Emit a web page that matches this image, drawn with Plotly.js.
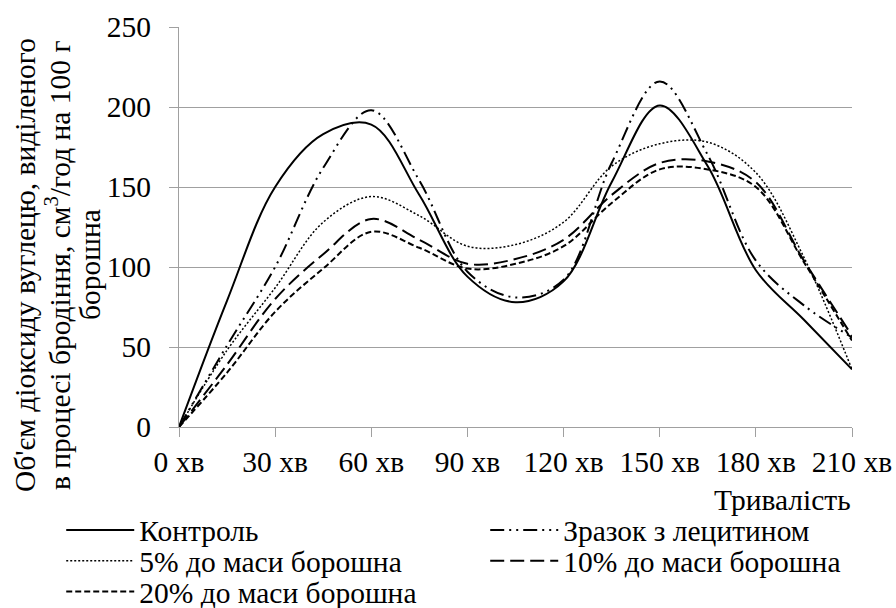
<!DOCTYPE html>
<html>
<head>
<meta charset="utf-8">
<script src="https://cdn.plot.ly/plotly-3.0.1.min.js"></script>
<style>html,body{margin:0;padding:0;background:#fff;}#chart{width:896px;height:608px;}</style>
</head>
<body>
<div id="chart"></div>
<script>
const minutes = [0, 15, 30, 45, 60, 75, 90, 105, 120, 135, 150, 165, 180, 195, 210];
const tickValues = [0, 30, 60, 90, 120, 150, 180, 210];
const tickLabels = ["0 хв", "30 хв", "60 хв", "90 хв", "120 хв", "150 хв", "180 хв", "210 хв"];
const seriesNames = ["Контроль", "Зразок з лецитином", "5% до маси борошна", "10% до маси борошна", "20% до маси борошна"];
const kontrol  = [0, 79, 150, 183, 189, 145, 94, 78, 91, 153, 201, 163, 98, 67, 36];
const lecithin = [0, 51, 100, 162, 198, 154, 97, 81, 92, 165, 216, 170, 104, 76, 56];
const pct5     = [0, 48, 87, 128, 144, 132, 113, 114, 128, 163, 177, 178, 159, 106, 36];
const pct10    = [0, 39, 80, 108, 130, 117, 102, 105, 117, 145, 165, 166, 153, 104, 57];
const pct20    = [0, 34, 72, 99, 122, 112, 99, 102, 113, 140, 161, 161, 150, 103, 54];
const yTitleLines = ["Об'єм діоксиду вуглецю, виділеного", "в процесі бродіння, см<sup>3</sup>/год на 100 г", "борошна"];

const FONT = "Liberation Serif";
const FS = 29.5;
const styles = [
  {dash: "solid", width: 2},
  {dash: "14px,5px,2px,5px,2px,5px", width: 2},
  {dash: "2px,2px", width: 1.5},
  {dash: "14px,6px", width: 2},
  {dash: "6px,3px", width: 2}
];
const legendIds = ["legend", "legend2", "legend3", "legend4", "legend5"];
const legendPos = [[-0.175, -0.258], [0.455, -0.258], [-0.175, -0.335], [0.455, -0.335], [-0.175, -0.412]];
const values = [kontrol, lecithin, pct5, pct10, pct20];
const traces = values.map((v, i) => ({
  x: minutes, y: v, name: seriesNames[i], type: "scatter", mode: "lines",
  legend: legendIds[i],
  line: {color: "#000", width: styles[i].width, dash: styles[i].dash, shape: "spline", smoothing: 1}
}));

const layout = {
  width: 896, height: 608,
  margin: {l: 179, r: 44, t: 27, b: 181, autoexpand: false},
  paper_bgcolor: "#fff", plot_bgcolor: "#fff",
  font: {family: FONT, size: FS, color: "#000"},
  showlegend: true,
  xaxis: {
    range: [0, 210], tickvals: tickValues, ticktext: tickLabels,
    showgrid: false, zeroline: false, showline: true, linecolor: "#a0a0a0", linewidth: 1,
    ticks: "outside", ticklen: 9, tickcolor: "#a0a0a0", ticklabelstandoff: 0,
    tickfont: {family: FONT, size: FS, color: "#000"}, fixedrange: true
  },
  yaxis: {
    range: [0, 250], dtick: 50, showgrid: true, gridcolor: "#a0a0a0", gridwidth: 1,
    zeroline: false, showline: true, linecolor: "#a0a0a0", linewidth: 1,
    ticks: "outside", ticklen: 9, tickcolor: "#a0a0a0", ticklabelstandoff: 12,
    tickfont: {family: FONT, size: FS, color: "#000"}, fixedrange: true
  },
  annotations: [
    {
      text: "Тривалість", xref: "paper", yref: "paper", x: 1.002, y: -0.182,
      xanchor: "right", yanchor: "middle", showarrow: false,
      font: {family: FONT, size: FS, color: "#000"}
    }
  ]
};
legendIds.forEach((id, i) => {
  layout[id] = {
    orientation: "v", x: legendPos[i][0], y: legendPos[i][1], xanchor: "left", yanchor: "middle",
    font: {family: FONT, size: FS, color: "#000"},
    itemwidth: 68, bgcolor: "rgba(0,0,0,0)", borderwidth: 0
  };
});
const titleX = [-0.2288, -0.1798, -0.1322];
yTitleLines.forEach((txt, i) => {
  layout.annotations.push({
    text: txt, xref: "paper", yref: "paper", x: titleX[i], y: 0.405,
    xanchor: "center", yanchor: "middle", textangle: -90, showarrow: false,
    font: {family: FONT, size: FS, color: "#000"}
  });
});
Plotly.newPlot("chart", traces, layout, {displayModeBar: false, staticPlot: true});
</script>
</body>
</html>
